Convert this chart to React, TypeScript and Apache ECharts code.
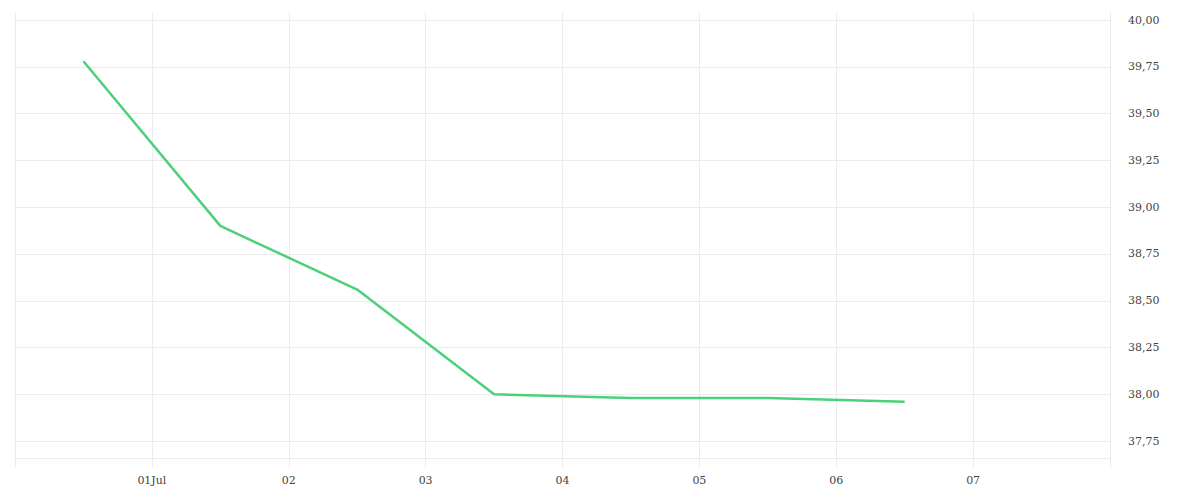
import { useEffect, useRef } from "react";
import * as echarts from "echarts";

// one point per day, at midday
const days = [
  [2024, 5, 30],
  [2024, 6, 1],
  [2024, 6, 2],
  [2024, 6, 3],
  [2024, 6, 4],
  [2024, 6, 5],
  [2024, 6, 6],
];
const values = [39.78, 38.9, 38.56, 38.0, 37.98, 37.98, 37.96];
const yTicks = [37.75, 38.0, 38.25, 38.5, 38.75, 39.0, 39.25, 39.5, 39.75, 40.0];

const DAY = 86400000;
const xMin = new Date(2024, 5, 30).getTime();
const xMax = new Date(2024, 6, 8).getTime();

const gridColor = "#ececec";
const textColor = "#444";
const font = "DejaVu Serif";

export default function App() {
  const chartRef = useRef<HTMLDivElement>(null);

  useEffect(() => {
    if (!chartRef.current) return;
    const chart = echarts.init(chartRef.current, null, { renderer: "svg" });

    const data = days.map((d, i) => [new Date(d[0], d[1], d[2], 12).getTime(), values[i]]);

    chart.setOption({
      animation: false,
      grid: { left: 15, right: 90, top: 12, bottom: 42, containLabel: false },
      xAxis: {
        type: "time",
        min: xMin,
        max: xMax,
        minInterval: DAY,
        maxInterval: DAY,
        axisLine: { show: true, lineStyle: { color: gridColor, width: 1 } },
        axisTick: { show: true, length: 10, lineStyle: { color: gridColor } },
        splitLine: { show: true, lineStyle: { color: gridColor, width: 1 } },
        axisLabel: {
          color: textColor,
          fontFamily: font,
          fontSize: 11,
          margin: 17,
          hideOverlap: false,
          formatter: (v: number) => {
            if (v <= xMin || v >= xMax) return "";
            const day = new Date(v).getDate();
            if (day === 1) return "01Jul";
            return String(day).padStart(2, "0");
          },
        },
      },
      yAxis: {
        type: "value",
        position: "right",
        min: 37.66,
        max: 40.043,
        axisLine: { show: true, lineStyle: { color: gridColor, width: 1 } },
        axisTick: { show: false, customValues: yTicks },
        splitLine: { show: true, lineStyle: { color: gridColor, width: 1 } },
        axisLabel: {
          customValues: yTicks,
          color: textColor,
          fontFamily: font,
          fontSize: 11,
          margin: 18,
          formatter: (v: number) => v.toFixed(2).replace(".", ","),
        },
      },
      series: [
        {
          type: "line",
          data,
          showSymbol: false,
          lineStyle: { color: "#4cd17a", width: 2.5 },
          itemStyle: { color: "#4cd17a" },
        },
      ],
    });

    return () => {
      chart.dispose();
    };
  }, []);

  return (
    <div
      ref={chartRef}
      style={{ position: "fixed", left: 0, top: 0, width: "1200px", height: "500px", background: "#fff" }}
    ></div>
  );
}
